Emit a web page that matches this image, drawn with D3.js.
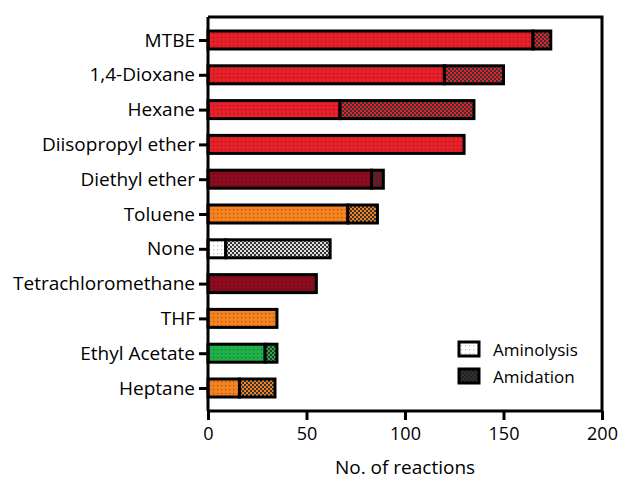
<!DOCTYPE html>
<html><head><meta charset="utf-8">
<script src="https://cdn.jsdelivr.net/npm/d3@7"></script>
<style>body{margin:0;background:#fff}text{font-family:"Open Sans",sans-serif}</style>
</head><body><svg id="c" width="621" height="481"></svg>
<script>
const categories = ["MTBE","1,4-Dioxane","Hexane","Diisopropyl ether","Diethyl ether","Toluene","None","Tetrachloromethane","THF","Ethyl Acetate","Heptane"];
const aminolysis = [165,120,67,130,83,71,9,55,35,29,16];
const amidation = [9,30,68,0,6,15,53,0,0,6,18];
const colorKey = ["red","red","red","red","dark","orange","white","dark","orange","green","orange"];
const xTicks = [0,50,100,150,200];
const legendLabels = ["Aminolysis","Amidation"];

const palette = {red:"#e8202a", dark:"#8c0b1f", orange:"#f5821f", green:"#20b04a", white:"#ffffff", black:"#222"};
const svg = d3.select("#c");
const L=208, R=602, T=17, B=411;
const x = d3.scaleLinear().domain([0,200]).range([L,R]);
const y = d3.scalePoint().domain(categories).range([40,388]);
const barH = 18;

const defs = svg.append("defs");
function dotPat(key){
  const id="dot-"+key;
  const p=defs.append("pattern").attr("id",id).attr("patternUnits","userSpaceOnUse").attr("width",4).attr("height",4);
  p.append("rect").attr("width",4).attr("height",4).attr("fill",palette[key]);
  p.append("rect").attr("x",1).attr("y",1).attr("width",1.2).attr("height",1.2).attr("fill",key==="white"?"#888":"#000").attr("opacity",key==="white"?0.6:0.35);
  return id;
}
function chkPat(key){
  const id="chk-"+key;
  const p=defs.append("pattern").attr("id",id).attr("patternUnits","userSpaceOnUse").attr("width",4).attr("height",4);
  p.append("rect").attr("width",4).attr("height",4).attr("fill",key==="white"?"#ddd":palette[key]);
  p.append("rect").attr("x",0).attr("y",0).attr("width",2).attr("height",2).attr("fill","#333");
  p.append("rect").attr("x",2).attr("y",2).attr("width",2).attr("height",2).attr("fill","#333");
  return id;
}
const keys=[...new Set(colorKey.concat(["white","black"]))];
keys.forEach(k=>{dotPat(k);chkPat(k);});

const g = svg.append("g");
categories.forEach((c,i)=>{
  const yc=y(c);
  g.append("rect").attr("x",x(0)).attr("y",yc-barH/2).attr("width",x(aminolysis[i])-x(0)).attr("height",barH)
   .attr("fill","url(#dot-"+colorKey[i]+")").attr("stroke","#000").attr("stroke-width",3);
  if(amidation[i]>0){
    g.append("rect").attr("x",x(aminolysis[i])).attr("y",yc-barH/2).attr("width",x(aminolysis[i]+amidation[i])-x(aminolysis[i])).attr("height",barH)
     .attr("fill","url(#chk-"+colorKey[i]+")").attr("stroke","#000").attr("stroke-width",3);
  }
});

// frame top/right
svg.append("path").attr("d",`M${L},${T}H${R}V${B}`).attr("fill","none").attr("stroke","#000").attr("stroke-width",3);

const xa = svg.append("g").attr("transform",`translate(0,${B})`).call(d3.axisBottom(x).tickValues(xTicks).tickSize(9).tickPadding(7));
const ya = svg.append("g").attr("transform",`translate(${L},0)`).call(d3.axisLeft(y).tickSize(9).tickPadding(4));
[xa,ya].forEach(a=>{
  a.select(".domain").attr("stroke","#000").attr("stroke-width",3);
  a.selectAll(".tick line").attr("stroke","#000").attr("stroke-width",3);
  a.selectAll("text").attr("font-family","'Open Sans',sans-serif").attr("fill","#000");
});
xa.selectAll("text").attr("font-size",18);
ya.selectAll("text").attr("font-size",19);
ya.select(".domain").attr("d",`M0,${T}V${B}`);
xa.select(".domain").attr("d",`M${L},0H${R}`);

svg.append("text").attr("x",(L+R)/2).attr("y",474).attr("text-anchor","middle").attr("font-size",19).text("No. of reactions");

// legend
const lg = svg.append("g");
legendLabels.forEach((t,i)=>{
  const yy=342+i*27;
  lg.append("rect").attr("x",459).attr("y",yy).attr("width",20).attr("height",14)
   .attr("fill",i===0?"url(#dot-white)":"url(#chk-black)").attr("stroke","#000").attr("stroke-width",3);
  lg.append("text").attr("x",493).attr("y",yy+14).attr("font-size",17).text(t);
});
</script></body></html>
